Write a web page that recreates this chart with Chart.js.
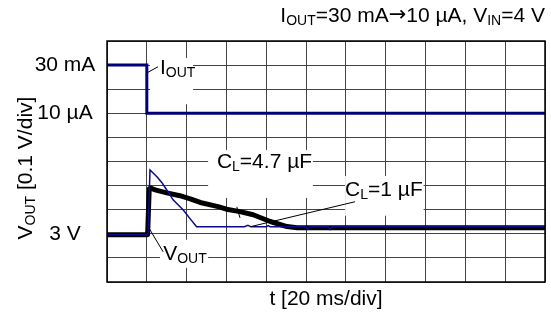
<!DOCTYPE html>
<html>
<head>
<meta charset="utf-8">
<script src="https://cdn.jsdelivr.net/npm/chart.js@4.4.0/dist/chart.umd.min.js"></script>
<style>
    html, body { margin: 0; padding: 0; background: #fff; }
    #wrap { width: 551px; height: 323px; }
</style>
</head>
<body>
<div id="wrap"><canvas id="grafico" width="551" height="323"></canvas></div>
<script>
// Eixos em divisões: x = 20 ms/div, y = 0.1 V/div (I_OUT em nível lógico)
const DIV_X = 11;
const DIV_Y = 10;

// =========================================
// 1. DADOS
// =========================================
// I_OUT: 30 mA -> 10 uA
const tempoIout = [0, 1.0, 1.0, 11];
const nivelIout = [9, 9, 7, 7];

// V_OUT com C_L = 1 uF (traço azul fino)
const tempoC1 = [0, 1.03, 1.08, 1.26, 1.38, 1.48, 1.66, 1.91, 2.09, 2.25, 3.45, 3.54, 3.62, 4.0, 4.05, 4.1, 5.0, 5.03, 5.08, 5.55, 5.6, 5.65, 11];
const voutC1 = [1.96, 1.96, 4.65, 4.36, 4.12, 3.87, 3.41, 3.0, 2.62, 2.29, 2.29, 2.35, 2.29, 2.29, 2.34, 2.29, 2.29, 2.19, 2.29, 2.29, 2.18, 2.29, 2.29];

// V_OUT com C_L = 4.7 uF (traço preto grosso)
const tempoC47 = [0, 1.02, 1.06, 1.1, 1.21, 1.5, 1.83, 2.09, 2.34, 2.79, 3.0, 3.34, 3.67, 4.1, 4.52, 4.77, 5.1, 11];
const voutC47 = [1.96, 1.96, 3.86, 3.9, 3.82, 3.7, 3.58, 3.45, 3.3, 3.13, 3.02, 2.92, 2.79, 2.51, 2.3, 2.25, 2.25, 2.25];

// Etiquetas do eixo vertical
const yTicksValores = [9, 7, 2];
const yTicksTextos = ['30 mA', '10 µA', '3 V'];

// =========================================
// 2. ANOTAÇÕES (em unidades de divisão)
// =========================================
const caixasBrancas = [
    [1.08, 2.16, 7.38, 9.3],   // I_OUT
    [1.33, 2.54, 0.59, 1.75],  // V_OUT
    [2.54, 5.17, 3.49, 5.48],  // C_L=4.7 uF
    [5.98, 7.95, 2.75, 4.4]    // C_L=1 uF
];
const linhasGuia = [
    [1.005, 8.68, 1.28, 8.93],
    [1.05, 2.25, 1.41, 1.25],
    [6.23, 3.33, 3.59, 2.29],
    [3.26, 3.12, 3.34, 2.66]
];
const etiquetas = [
    { x: 1.33, y: 8.87, partes: [['I'], ['OUT', 1]] },
    { x: 1.41, y: 1.17, partes: [['V'], ['OUT', 1]] },
    { x: 2.76, y: 4.97, partes: [['C'], ['L', 1], ['=4.7 µF']] },
    { x: 5.98, y: 3.80, partes: [['C'], ['L', 1], ['=1 µF']] }
];

const FONTE = '21px "Liberation Sans", Arial, sans-serif';
const FONTE_SUB = '14px "Liberation Sans", Arial, sans-serif';
const FONTE_SETA = '21px "DejaVu Sans", sans-serif';

function fontePara(p) {
    if (p[1] === 1) return FONTE_SUB;
    if (p[1] === 2) return FONTE_SETA;
    return FONTE;
}

function larguraTexto(ctx, partes) {
    let w = 0;
    partes.forEach(p => {
        ctx.font = fontePara(p);
        w += ctx.measureText(p[0]).width;
    });
    return w;
}

// Desenha texto com índices (subscritos)
function desenharTexto(ctx, partes, x, y, alinhar) {
    ctx.save();
    ctx.textBaseline = 'middle';
    ctx.textAlign = 'left';
    ctx.fillStyle = '#000';
    const w = larguraTexto(ctx, partes);
    let cx = x;
    if (alinhar === 'center') cx = x - w / 2;
    if (alinhar === 'right') cx = x - w;
    partes.forEach(p => {
        ctx.font = fontePara(p);
        ctx.fillText(p[0], cx, p[1] === 1 ? y + 5 : y);
        cx += ctx.measureText(p[0]).width;
    });
    ctx.restore();
}

const pontos = (xs, ys) => xs.map((x, i) => ({ x: x, y: ys[i] }));

// =========================================
// 3. PLUGIN PARA MOLDURA, TEXTOS E SETAS
// =========================================
const anotacoes = {
    id: 'anotacoes',
    beforeDatasetsDraw(chart) {
        const ctx = chart.ctx;
        const sx = chart.scales.x, sy = chart.scales.y;
        ctx.save();
        ctx.fillStyle = '#fff';
        caixasBrancas.forEach(c => {
            const x0 = sx.getPixelForValue(c[0]), x1 = sx.getPixelForValue(c[1]);
            const y0 = sy.getPixelForValue(c[3]), y1 = sy.getPixelForValue(c[2]);
            ctx.fillRect(x0, y0, x1 - x0, y1 - y0);
        });
        ctx.restore();
    },
    afterDatasetsDraw(chart) {
        const ctx = chart.ctx;
        const sx = chart.scales.x, sy = chart.scales.y;
        const a = chart.chartArea;

        // moldura
        ctx.save();
        ctx.strokeStyle = '#000';
        ctx.lineWidth = 1.5;
        ctx.strokeRect(a.left, a.top, a.right - a.left, a.bottom - a.top);

        // linhas guia
        ctx.lineWidth = 1;
        linhasGuia.forEach(l => {
            ctx.beginPath();
            ctx.moveTo(sx.getPixelForValue(l[0]), sy.getPixelForValue(l[1]));
            ctx.lineTo(sx.getPixelForValue(l[2]), sy.getPixelForValue(l[3]));
            ctx.stroke();
        });
        ctx.restore();

        etiquetas.forEach(e => {
            desenharTexto(ctx, e.partes, sx.getPixelForValue(e.x), sy.getPixelForValue(e.y), 'left');
        });

        // etiquetas do eixo y
        yTicksValores.forEach((v, i) => {
            desenharTexto(ctx, [[yTicksTextos[i]]], 65, sy.getPixelForValue(v), 'center');
        });

        // título superior
        desenharTexto(ctx, [['I'], ['OUT', 1], ['=30 mA'], ['→', 2], ['10 µA, V'], ['IN', 1], ['=4 V']], 545, 16, 'right');

        // título do eixo x
        desenharTexto(ctx, [['t [20 ms/div]']], (a.left + a.right) / 2, 299, 'center');

        // título do eixo y (rodado)
        ctx.save();
        ctx.translate(26, 168);
        ctx.rotate(-Math.PI / 2);
        desenharTexto(ctx, [['V'], ['OUT', 1], [' [0.1 V/div]']], 0, 0, 'center');
        ctx.restore();
    }
};

// =========================================
// 4. GRÁFICO
// =========================================
const ctx = document.getElementById('grafico').getContext('2d');

const grafico = new Chart(ctx, {
    type: 'line',
    data: {
        datasets: [
            {
                label: 'C_L=1 uF',
                data: pontos(tempoC1, voutC1),
                borderColor: '#0a0a8a',
                borderWidth: 1.5,
                pointRadius: 0,
                tension: 0
            },
            {
                label: 'C_L=4.7 uF',
                data: pontos(tempoC47, voutC47),
                borderColor: '#000',
                borderWidth: 5,
                borderJoinStyle: 'round',
                borderCapStyle: 'round',
                pointRadius: 0,
                tension: 0
            },
            {
                label: 'I_OUT',
                data: pontos(tempoIout, nivelIout),
                borderColor: '#00007a',
                borderWidth: 3,
                pointRadius: 0,
                tension: 0
            }
        ]
    },
    options: {
        responsive: false,
        animation: false,
        layout: { padding: { left: 107, right: 6, top: 41, bottom: 41 } },
        plugins: {
            legend: { display: false },
            tooltip: { enabled: false }
        },
        scales: {
            x: {
                type: 'linear',
                min: 0,
                max: DIV_X,
                ticks: { stepSize: 1, display: false },
                grid: { color: '#444', lineWidth: 1, drawTicks: false },
                border: { display: false }
            },
            y: {
                type: 'linear',
                min: 0,
                max: DIV_Y,
                ticks: { stepSize: 1, display: false },
                grid: { color: '#444', lineWidth: 1, drawTicks: false },
                border: { display: false }
            }
        }
    },
    plugins: [anotacoes]
});
</script>
</body>
</html>
